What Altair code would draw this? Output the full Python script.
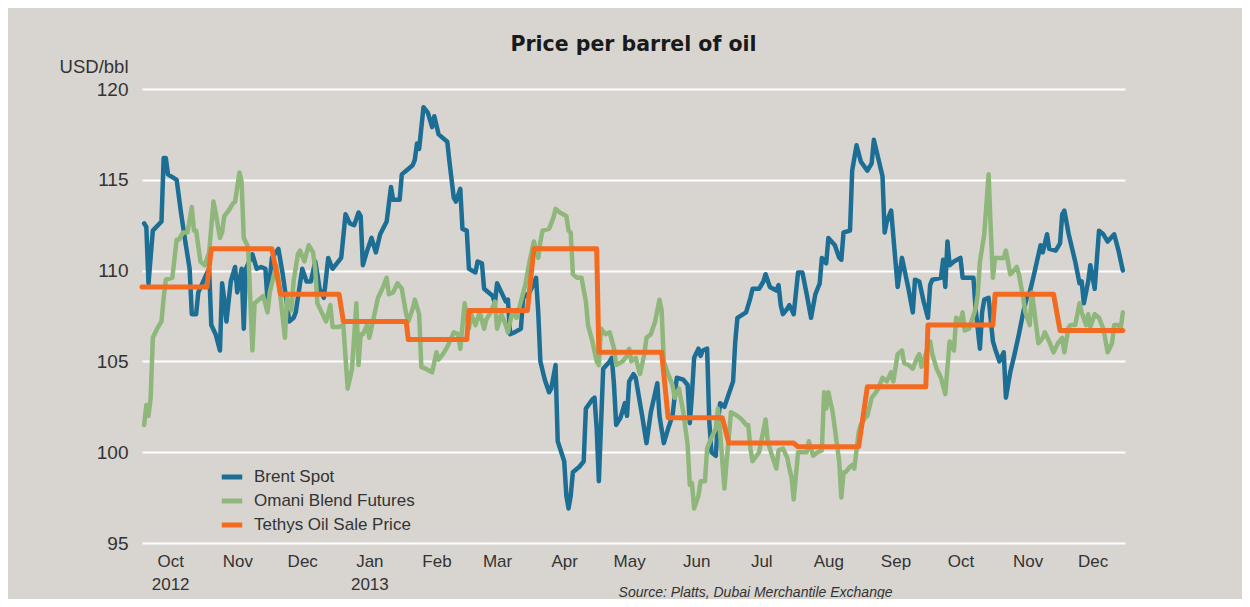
import altair as alt
import pandas as pd

START = "2012-10-01"  # day 0 of the day offsets below

# (day offset from START, USD/bbl)
BRENT = [(2,112.6),(3,112.4),(4,109.3),(6,112.2),(10,112.7),(11,116.2),(12,116.2),(13,115.3),(17,115.0),(19,113.2),
         (21,111.6),(23,110.1),(24,107.6),(26,107.6),(27,108.8),(30,109.6),(32,110.1),(33,107.0),(35,106.5),(37,105.6),
         (38,109.3),(39,108.4),(40,107.2),(42,109.4),(44,110.2),(45,108.8),(47,110.1),(48,106.8),(49,110.1),(52,110.9),
         (54,110.1),(56,110.2),(58,110.1),(59,108.3),(61,110.7),(64,111.2),(66,109.8),(68,108.1),(69,107.2),(71,107.4),
         (72,107.7),(75,110.1),(77,109.4),(79,109.4),(81,110.5),(82,109.8),(83,109.0),(85,108.5),(87,110.7),(89,110.1),
         (93,110.7),(95,113.1),(97,112.6),(99,112.5),(101,113.2),(102,113.0),(103,110.3),(105,111.1),(107,111.8),(109,111.0),
         (111,112.0),(114,112.7),(116,114.6),(117,113.9),(120,113.9),(121,115.3),(123,115.5),(126,115.8),(127,116.1),(128,117.0),
         (129,116.7),(131,119.0),(133,118.7),(135,117.9),(136,118.5),(138,117.5),(142,117.1),(143,116.0),(145,114.0),(146,113.8),
         (148,114.5),(149,112.3),(151,112.2),(152,110.1),(155,109.9),(156,110.5),(158,110.4),(159,109.0),(163,108.6),(164,108.2),
         (165,109.3),(167,108.8),(169,108.3),(170,108.4),(171,106.5),(173,106.6),(176,106.8),(177,108.5),(180,108.8),(182,109.3),
         (183,109.6),(184,107.7),(185,105.0),(187,104.0),(189,103.3),(190,103.5),(192,104.8),(193,100.6),(196,99.5),(197,97.6),
         (198,96.9),(199,97.6),(200,98.9),(203,99.2),(205,99.5),(206,102.4),(209,102.9),(210,103.0),(211,101.3),(212,98.4),
         (214,104.6),(217,105.0),(218,105.2),(219,103.7),(220,101.5),(222,101.9),(224,102.7),(225,102.0),(226,103.9),(228,104.3),
         (229,104.1),(232,102.0),(234,100.5),(236,102.2),(239,103.8),(240,102.0),(242,100.5),(244,101.3),(246,102.0),(248,104.1),
         (251,104.0),(253,103.7),(254,101.6),(255,103.2),(256,105.2),(258,105.7),(259,105.3),(260,105.6),(262,105.7),(263,101.7),
         (264,100.0),(266,99.8),(267,101.7),(268,102.7),(270,102.5),(272,103.2),(274,103.9),(275,106.1),(276,107.4),(280,107.7),
         (281,108.1),(282,108.5),(283,109.0),(286,109.0),(288,109.4),(289,109.8),(291,109.1),(294,108.9),(295,109.2),(296,108.1),
         (297,107.6),(299,107.9),(300,108.1),(302,107.6),(304,109.9),(306,109.9),(308,108.7),(310,107.4),(312,108.7),(314,109.3),
         (315,110.7),(317,110.4),(318,111.8),(321,111.4),(323,110.7),(324,110.6),(325,112.1),(328,112.2),(329,115.5),(331,116.9),
         (333,116.0),(336,115.5),(338,115.9),(339,117.2),(341,116.2),(343,115.2),(344,112.1),(345,112.7),(347,113.3),(348,111.9),
         (350,109.1),(352,110.7),(355,109.0),(357,107.7),(358,109.5),(360,109.4),(362,108.3),(364,107.4),(365,109.2),(366,109.5),
         (370,109.6),(371,110.6),(372,109.1),(373,111.6),(374,110.3),(376,110.5),(379,110.7),(380,109.6),(383,109.6),(385,109.6),
         (386,107.9),(388,105.7),(389,107.7),(390,108.4),(392,108.5),(394,106.1),(395,105.7),(397,105.0),(399,105.5),(400,103.0),
         (402,104.4),(404,105.4),(406,106.5),(408,107.7),(410,108.7),(411,108.8),(413,109.8),(416,111.4),(417,111.0),(419,112.0),
         (420,111.2),(423,111.1),(425,111.5),(426,113.1),(427,113.3),(429,112.0),(432,110.5),(434,109.3),(435,109.4),(436,108.2),
         (438,109.4),(439,110.3),(441,109.0),(443,112.2),(445,112.0),(447,111.6),(450,112.0),(452,111.1),(454,110.0)]

OMANI = [(2,101.5),(3,102.6),(4,102.0),(5,103.0),(6,106.3),(8,106.8),(10,107.2),(11,108.5),(12,109.5),(15,109.6),
         (17,111.7),(18,111.7),(20,112.1),(22,112.1),(24,113.5),(25,112.2),(26,112.2),(28,110.5),(30,110.3),(32,111.0),
         (34,113.8),(35,113.2),(37,111.8),(38,112.1),(39,113.0),(41,113.3),(43,113.7),(44,113.8),(46,115.4),(47,114.9),
         (48,111.8),(50,111.3),(52,105.6),(53,108.2),(54,108.3),(57,108.6),(59,107.7),(60,108.8),(63,110.3),(64,109.6),
         (65,108.5),(67,106.3),(68,108.5),(70,107.8),(71,109.4),(73,110.9),(74,111.1),(76,110.5),(78,111.4),(80,111.0),
         (81,110.1),(82,108.2),(84,107.7),(86,107.2),(88,108.1),(89,106.9),(92,106.9),(94,107.0),(95,105.2),(96,103.5),
         (98,104.6),(100,108.2),(101,104.8),(102,106.5),(103,106.5),(105,107.0),(106,106.3),(108,107.4),(110,108.5),(112,109.0),
         (114,109.6),(115,108.7),(117,108.8),(119,109.3),(121,109.0),(123,107.6),(124,107.2),(126,107.9),(127,108.4),(129,107.6),
         (130,104.7),(132,104.6),(135,104.4),(137,105.5),(138,105.1),(140,105.4),(142,105.8),(145,106.6),(147,106.5),(148,105.7),
         (150,108.2),(152,106.8),(153,107.6),(155,107.0),(157,107.7),(159,106.8),(160,107.3),(162,107.7),(164,108.3),(165,106.8),
         (167,107.6),(169,107.0),(170,106.6),(172,107.7),(174,107.4),(176,108.3),(178,109.2),(180,110.5),(182,111.6),(184,110.7),
         (185,111.6),(186,112.2),(189,112.3),(191,112.9),(192,113.4),(194,113.2),(197,113.0),(198,112.2),(199,112.1),(200,109.8),
         (202,109.6),(204,109.6),(206,108.3),(207,107.0),(209,106.1),(211,105.0),(212,104.8),(213,106.8),(215,106.5),(217,106.6),
         (219,105.7),(220,104.8),(223,105.0),(225,105.3),(226,105.7),(227,105.0),(229,105.2),(231,104.3),(233,105.4),(234,106.3),
         (236,106.5),(238,107.2),(240,108.4),(241,107.8),(242,105.0),(244,104.3),(246,103.7),(247,103.0),(249,103.5),(251,102.2),
         (253,100.4),(254,98.2),(255,98.3),(256,96.9),(258,97.6),(259,98.4),(261,98.4),(262,100.2),(264,100.8),(266,101.3),
         (267,102.4),(268,101.1),(270,98.0),(271,99.5),(272,100.8),(273,102.2),(276,102.0),(278,101.8),(280,101.5),(281,101.5),
         (282,100.2),(283,99.5),(286,100.0),(287,100.6),(289,101.8),(290,100.6),(292,99.8),(294,99.1),(295,100.1),(297,100.2),
         (299,99.7),(300,99.1),(301,98.6),(302,97.4),(304,100.0),(306,100.0),(308,100.0),(309,100.6),(311,99.8),(313,100.0),
         (315,100.1),(316,103.3),(317,102.4),(318,103.3),(320,102.2),(321,101.3),(323,99.5),(324,97.5),(325,98.9),(326,98.9),
         (328,99.2),(329,99.3),(330,99.1),(332,101.1),(333,101.5),(335,101.9),(336,102.0),(338,103.0),(340,103.3),(341,103.5),
         (343,104.1),(345,103.9),(347,104.4),(348,103.9),(350,105.4),(352,105.6),(353,104.9),(355,104.8),(357,104.6),(359,105.2),
         (360,105.4),(361,104.7),(365,106.1),(366,105.4),(368,104.6),(370,104.1),(372,103.2),(374,106.1),(376,105.6),(377,107.4),
         (379,107.2),(380,107.7),(381,106.7),(383,106.8),(386,107.9),(387,108.7),(388,110.5),(390,112.0),(392,115.3),(393,112.3),
         (394,109.6),(395,110.7),(397,110.7),(399,110.7),(400,111.1),(402,109.8),(403,109.9),(405,110.2),(406,109.8),(408,108.5),
         (409,107.7),(411,107.0),(412,108.8),(413,107.9),(415,106.0),(417,106.3),(418,106.6),(420,106.1),(422,105.5),(424,106.0),
         (426,106.3),(427,105.5),(429,106.9),(430,107.0),(432,107.0),(434,108.2),(435,107.7),(437,107.0),(438,107.6),(439,106.9),
         (441,107.6),(443,107.4),(445,106.8),(447,105.5),(449,106.0),(450,107.0),(452,107.0),(453,106.8),(454,107.7)]

TETHYS = [(1,109.1),(31,109.1),(33,111.2),(61,111.2),(65,108.7),(92,108.7),(94,107.2),(123,107.2),(124,106.2),(151,106.2),
          (152,107.8),(179,107.8),(182,111.2),(211,111.2),(212,105.5),(241,105.5),(244,101.9),(269,101.9),(272,100.5),(302,100.5),
          (304,100.3),(332,100.3),(336,103.6),(363,103.6),(364,107.0),(394,107.0),(395,108.7),(422,108.7),(425,106.7),(454,106.7)]

SERIES = ["Brent Spot", "Omani Blend Futures", "Tethys Oil Sale Price"]
COLORS = ["#1c6e95", "#8fb77b", "#f36b21"]
WIDTHS = [4.5, 4.5, 5]
Y_TICKS = [95, 100, 105, 110, 115, 120]
MONTHS = [(2012, 10), (2012, 11), (2012, 12)] + [(2013, m) for m in range(1, 13)]
TITLE = "Price per barrel of oil"
Y_TITLE = "USD/bbl"
SOURCE = "Source: Platts, Dubai Merchantile Exchange"


def frame(points, name):
    days, vals = zip(*points)
    dates = pd.Timestamp(START) + pd.to_timedelta(list(days), unit="D")
    return pd.DataFrame({"date": dates.strftime("%Y-%m-%dT00:00:00"),
                         "price": list(vals), "series": name})


df = pd.concat([frame(BRENT, SERIES[0]), frame(OMANI, SERIES[1]), frame(TETHYS, SERIES[2])],
               ignore_index=True)

FONT = "Liberation Sans"
TXT = "#333333"

label_expr = ("(month(datum.value)==9 && year(datum.value)==2012) ? ['Oct','2012'] : "
              "((month(datum.value)==0 && year(datum.value)==2013) ? ['Jan','2013'] : "
              "timeFormat(datum.value, '%b'))")

x_enc = alt.X(
    "date:T",
    scale=alt.Scale(domain=[alt.DateTime(year=2012, month=10, date=2),
                            alt.DateTime(year=2013, month=12, date=30)]),
    axis=alt.Axis(
        values=[alt.DateTime(year=y, month=m, date=15) for y, m in MONTHS],
        labelExpr=label_expr, labelFontSize=17, labelFont=FONT, labelColor=TXT,
        labelPadding=10, labelLineHeight=23, labelOverlap=False, labelFlush=False,
        ticks=False, tickSize=0, domain=False, grid=False,
        title=SOURCE, titleX=750, titleY=49, titleAlign="right", titleBaseline="middle",
        titleFontStyle="italic", titleFontWeight="normal", titleFontSize=14,
        titleFont=FONT, titleColor=TXT,
    ),
)
y_enc = alt.Y(
    "price:Q",
    scale=alt.Scale(domain=[95, 120], nice=False, zero=False),
    axis=alt.Axis(
        values=Y_TICKS, labelFontSize=19, labelFont=FONT, labelColor=TXT, labelPadding=14,
        ticks=False, tickSize=0, domain=False, grid=True, gridColor="white", gridWidth=2,
        title=Y_TITLE, titleAngle=0, titleAlign="right", titleBaseline="middle",
        titleX=-14, titleY=-23, titleFontSize=18.5, titleFont=FONT, titleFontWeight="normal",
        titleColor=TXT,
    ),
)
color_enc = alt.Color(
    "series:N",
    scale=alt.Scale(domain=SERIES, range=COLORS),
    legend=alt.Legend(
        orient="none", legendX=77, legendY=375, title=None,
        symbolType="stroke", symbolStrokeWidth=5, symbolSize=420,
        labelFontSize=17, labelFont=FONT, labelColor=TXT, labelOffset=9, rowPadding=1,
        labelLimit=400,
    ),
)

layers = []
for name, w in zip(SERIES, WIDTHS):
    layers.append(
        alt.Chart(df)
        .transform_filter(alt.datum.series == name)
        .mark_line(strokeWidth=w, strokeJoin="round", strokeCap="round")
        .encode(x=x_enc, y=y_enc, color=color_enc)
    )

chart = (
    alt.layer(*layers)
    .properties(
        width=983, height=454,
        autosize=alt.AutoSizeParams(type="none"),
        padding={"left": 134, "top": 81, "right": 117, "bottom": 56},
        background="#d8d5d0",
        title=alt.Title(TITLE, font="DejaVu Sans", fontSize=20.5, fontWeight="bold",
                        color="#1a1a1a", anchor="middle", frame="group", offset=2),
    )
    .configure_view(stroke=None)
)

chart.save("out.html", embed_options={"renderer": "svg", "actions": False})
